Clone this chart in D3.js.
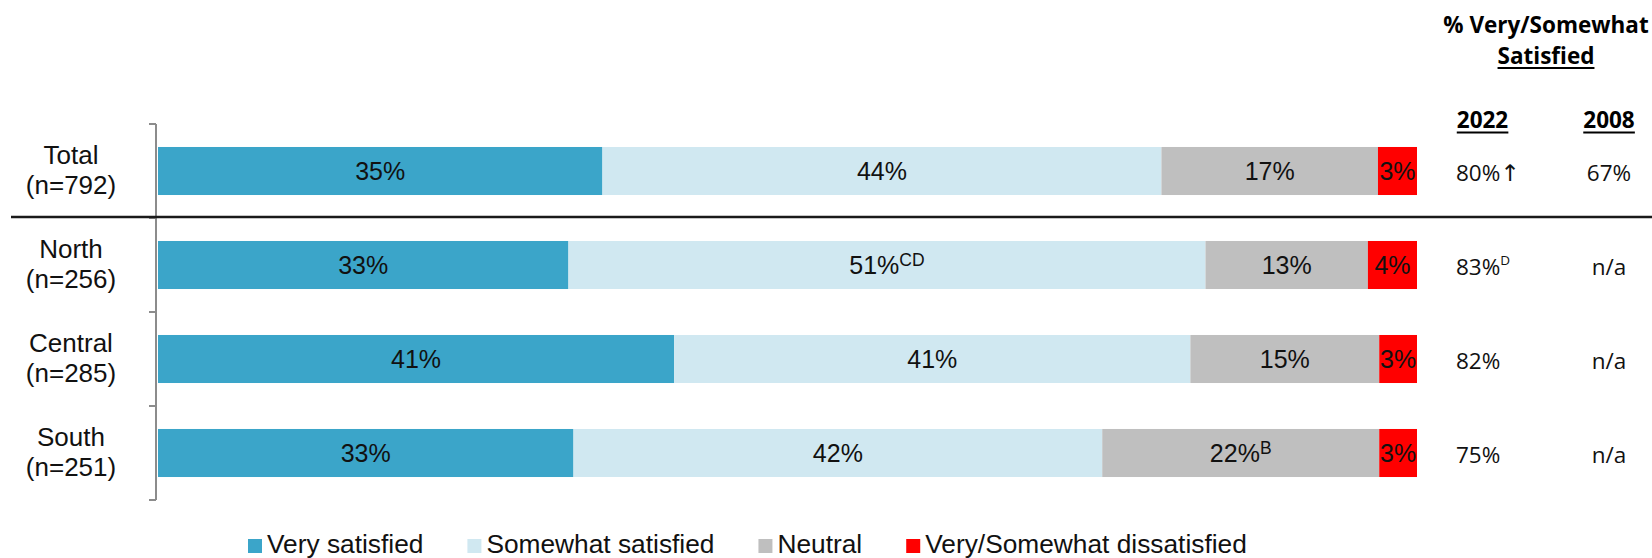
<!DOCTYPE html>
<html>
<head>
<meta charset="utf-8">
<script src="https://cdn.jsdelivr.net/npm/d3@7"></script>
<style>
  html, body { margin: 0; padding: 0; background: #fff; }
  svg { display: block; }
</style>
</head>
<body>
<svg id="chart" width="1652" height="558"></svg>
<script>
// ---------- data ----------
const categories = ["Total", "North", "Central", "South"];
const sampleSizes = ["(n=792)", "(n=256)", "(n=285)", "(n=251)"];
const seriesNames = ["Very satisfied", "Somewhat satisfied", "Neutral", "Very/Somewhat dissatisfied"];
const seriesKeys = ["very", "somewhat", "neutral", "dissatisfied"];
const verySatisfied     = [35.3, 32.6, 41.0, 33.0];
const somewhatSatisfied = [44.4, 50.6, 41.0, 42.0];
const neutral           = [17.2, 12.9, 15.0, 22.0];
const dissatisfied      = [3.1, 3.9, 3.0, 3.0];
const verySup       = ["", "", "", ""];
const somewhatSup   = ["", "CD", "", ""];
const neutralSup    = ["", "", "", "B"];
const dissSup       = ["", "", "", ""];
const satisfied2022 = ["80%", "83%", "82%", "75%"];
const mark2022      = ["\u2191", "D", "", ""];
const satisfied2008 = ["67%", "n/a", "n/a", "n/a"];
const headerLines = ["% Very/Somewhat", "Satisfied"];
const yearHeaders = ["2022", "2008"];

// ---------- setup ----------
const colors = ["#3BA5C9", "#D0E8F1", "#BFBFBF", "#FF0000"];
const svg = d3.select("#chart");
const sansBar = "'Liberation Sans', Arial, sans-serif";
const sansCol = "'Open Sans', 'Noto Sans', sans-serif";

const rows = categories.map((c, i) => ({
  cat: c,
  very: verySatisfied[i], somewhat: somewhatSatisfied[i],
  neutral: neutral[i], dissatisfied: dissatisfied[i],
  sup: { very: verySup[i], somewhat: somewhatSup[i], neutral: neutralSup[i], dissatisfied: dissSup[i] }
}));

const x = d3.scaleLinear().domain([0, 100]).range([158, 1417]);
const y = d3.scaleBand().domain(categories).range([124, 500])
  .paddingInner(0.489).paddingOuter(0.2445);
const color = d3.scaleOrdinal().domain(seriesKeys).range(colors);

const stack = d3.stack().keys(seriesKeys);
const layers = stack(rows);

// ---------- bars ----------
const g = svg.append("g");
const layerG = g.selectAll("g.layer").data(layers).join("g")
  .attr("class", "layer").attr("fill", d => color(d.key));
layerG.selectAll("rect").data(d => d.map(p => Object.assign(p, { key: d.key })))
  .join("rect")
  .attr("x", d => x(d[0]))
  .attr("y", d => y(d.data.cat))
  .attr("width", d => x(d[1]) - x(d[0]))
  .attr("height", y.bandwidth());

// bar labels
layers.forEach(layer => {
  layer.forEach(p => {
    const v = p[1] - p[0];
    const t = g.append("text")
      .attr("x", (x(p[0]) + x(p[1])) / 2)
      .attr("y", y(p.data.cat) + y.bandwidth() / 2)
      .attr("dy", "0.35em")
      .attr("text-anchor", "middle")
      .attr("font-family", sansBar)
      .attr("font-size", 25)
      .attr("fill", "#111");
    t.append("tspan").text(Math.round(v) + "%");
    const s = p.data.sup[layer.key];
    if (s) {
      t.append("tspan").attr("font-size", 17.5).attr("dy", -8).text(s);
    }
  });
});

// ---------- axis ----------
const step = y.step();
const boundaries = categories.map(c => y(c) - step * y.paddingInner() / 2);
boundaries.push(y(categories[categories.length - 1]) + y.bandwidth() + step * y.paddingInner() / 2);
const axisG = svg.append("g").attr("stroke", "#8C8C8C").attr("stroke-width", 2);
axisG.append("line")
  .attr("x1", 156).attr("x2", 156)
  .attr("y1", boundaries[0]).attr("y2", boundaries[boundaries.length - 1]);
axisG.selectAll("line.tick").data(boundaries).join("line")
  .attr("class", "tick")
  .attr("x1", 149).attr("x2", 156)
  .attr("y1", d => d).attr("y2", d => d);

// separator below Total
svg.append("line")
  .attr("x1", 11).attr("x2", 1652)
  .attr("y1", boundaries[1] - 1).attr("y2", boundaries[1] - 1)
  .attr("stroke", "#1a1a1a").attr("stroke-width", 2.6);

// category labels
categories.forEach((c, i) => {
  const cy = y(c) + y.bandwidth() / 2;
  const t = svg.append("text")
    .attr("text-anchor", "middle")
    .attr("font-family", sansBar)
    .attr("font-size", 26)
    .attr("fill", "#111");
  t.append("tspan").attr("x", 71).attr("y", cy - 7.5).text(c);
  t.append("tspan").attr("x", 71).attr("y", cy + 22.5).text(sampleSizes[i]);
});

// ---------- right columns ----------
function underlined(txt, cx, by, size, bold) {
  const t = svg.append("text")
    .attr("x", cx).attr("y", by)
    .attr("text-anchor", "middle")
    .attr("font-family", sansCol)
    .attr("font-size", size)
    .attr("font-weight", bold ? "bold" : "normal")
    .attr("fill", "#000")
    .text(txt);
  const bb = t.node().getBBox();
  svg.append("line")
    .attr("x1", bb.x).attr("x2", bb.x + bb.width)
    .attr("y1", by + 4.5).attr("y2", by + 4.5)
    .attr("stroke", "#000").attr("stroke-width", 1.8);
}

svg.append("text")
  .attr("x", 1546).attr("y", 33)
  .attr("text-anchor", "middle")
  .attr("font-family", sansCol).attr("font-size", 22.5).attr("font-weight", "bold")
  .attr("fill", "#000").text(headerLines[0]);
underlined(headerLines[1], 1546, 63.5, 22.5, true);
underlined(yearHeaders[0], 1482.5, 128, 22.5, true);
underlined(yearHeaders[1], 1609, 128, 22.5, true);

categories.forEach((c, i) => {
  const cy = y(c) + y.bandwidth() / 2 + 9.5;
  const t = svg.append("text")
    .attr("x", 1456).attr("y", cy)
    .attr("font-family", sansCol).attr("font-size", 22.5)
    .attr("fill", "#111");
  t.append("tspan").text(satisfied2022[i]);
  const m = mark2022[i];
  if (m === "\u2191") {
    t.append("tspan").attr("font-family", "'DejaVu Sans', sans-serif").attr("font-size", 23).text(m);
  } else if (m) {
    t.append("tspan").attr("font-size", 13.5).attr("dy", -10).text(m);
  }
  svg.append("text")
    .attr("x", 1609).attr("y", cy)
    .attr("text-anchor", "middle")
    .attr("font-family", sansCol).attr("font-size", 22.5)
    .attr("fill", "#111")
    .text(satisfied2008[i]);
});

// ---------- legend ----------
const legend = svg.append("g");
let lx = 248;
seriesNames.forEach((name, i) => {
  legend.append("rect")
    .attr("x", lx).attr("y", 539)
    .attr("width", 14).attr("height", 14)
    .attr("fill", colors[i]);
  const t = legend.append("text")
    .attr("x", lx + 19).attr("y", 553)
    .attr("font-family", sansBar).attr("font-size", 26.3)
    .attr("fill", "#111").text(name);
  lx = lx + 19 + t.node().getComputedTextLength() + 44;
});
</script>
</body>
</html>
